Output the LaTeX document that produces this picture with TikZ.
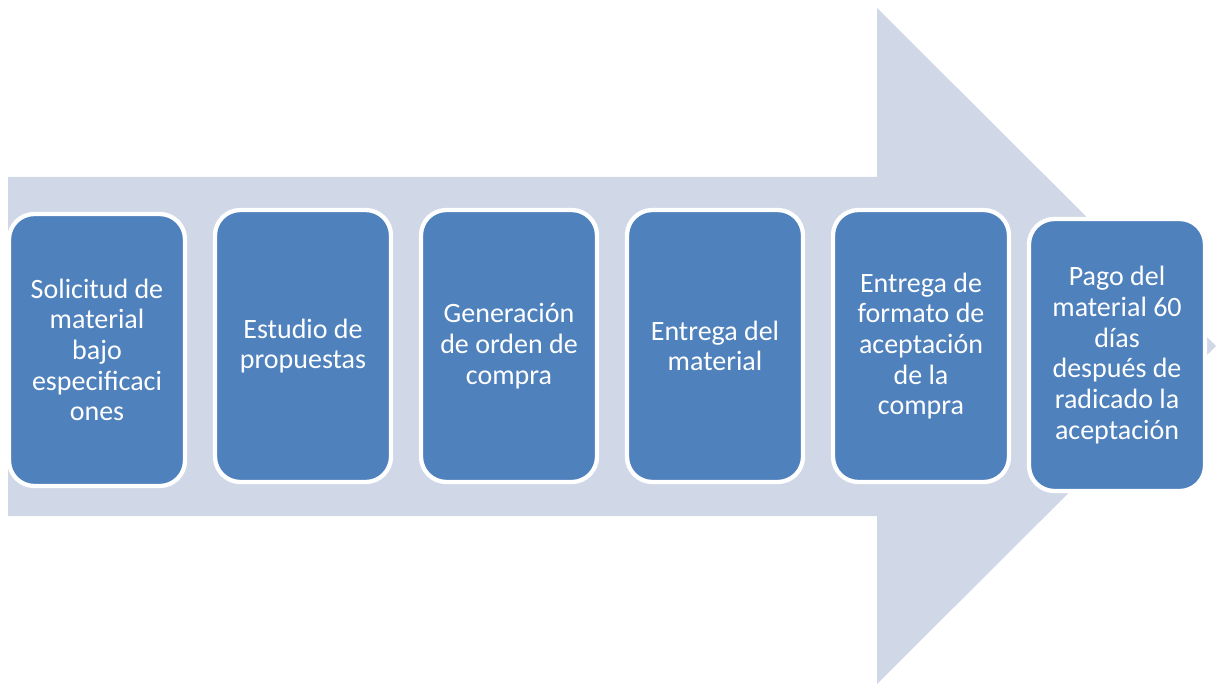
\documentclass[tikz,border=0pt]{standalone}
\usepackage{fontspec}
\setmainfont{Carlito}
\definecolor{arrowgray}{HTML}{D0D8E8}
\definecolor{stepblue}{HTML}{4F81BD}
\begin{document}
\begin{tikzpicture}[x=0.75pt, y=-0.75pt,
    stepbox/.style={draw=white, line width=3.2pt, fill=stepblue, rounded corners=19pt,
        minimum width=132pt, minimum height=204pt, text=white, align=center,
        font=\fontsize{21}{23}\selectfont}]
    \useasboundingbox (0,0) rectangle (1223,684);
    % Background: big process arrow
    \fill[arrowgray] (8,177) -- (877,177) -- (877,8) -- (1216,346) -- (877,684) -- (877,516) -- (8,516) -- cycle;

    % Steps
    \node[stepbox] (solicitud) at (97,350) {Solicitud de\\material\\bajo\\especificaci\\ones};
    \node[stepbox] (estudio) at (303,346) {Estudio de\\propuestas};
    \node[stepbox] (orden) at (509,346) {Generación\\de orden de\\compra};
    \node[stepbox] (entrega) at (715,346) {Entrega del\\material};
    \node[stepbox] (formato) at (921,346) {Entrega de\\formato de\\aceptación\\de la\\compra};
    \node[stepbox] (pago) at (1117,355) {Pago del\\material 60\\días\\después de\\radicado la\\aceptación};
\end{tikzpicture}
\end{document}
